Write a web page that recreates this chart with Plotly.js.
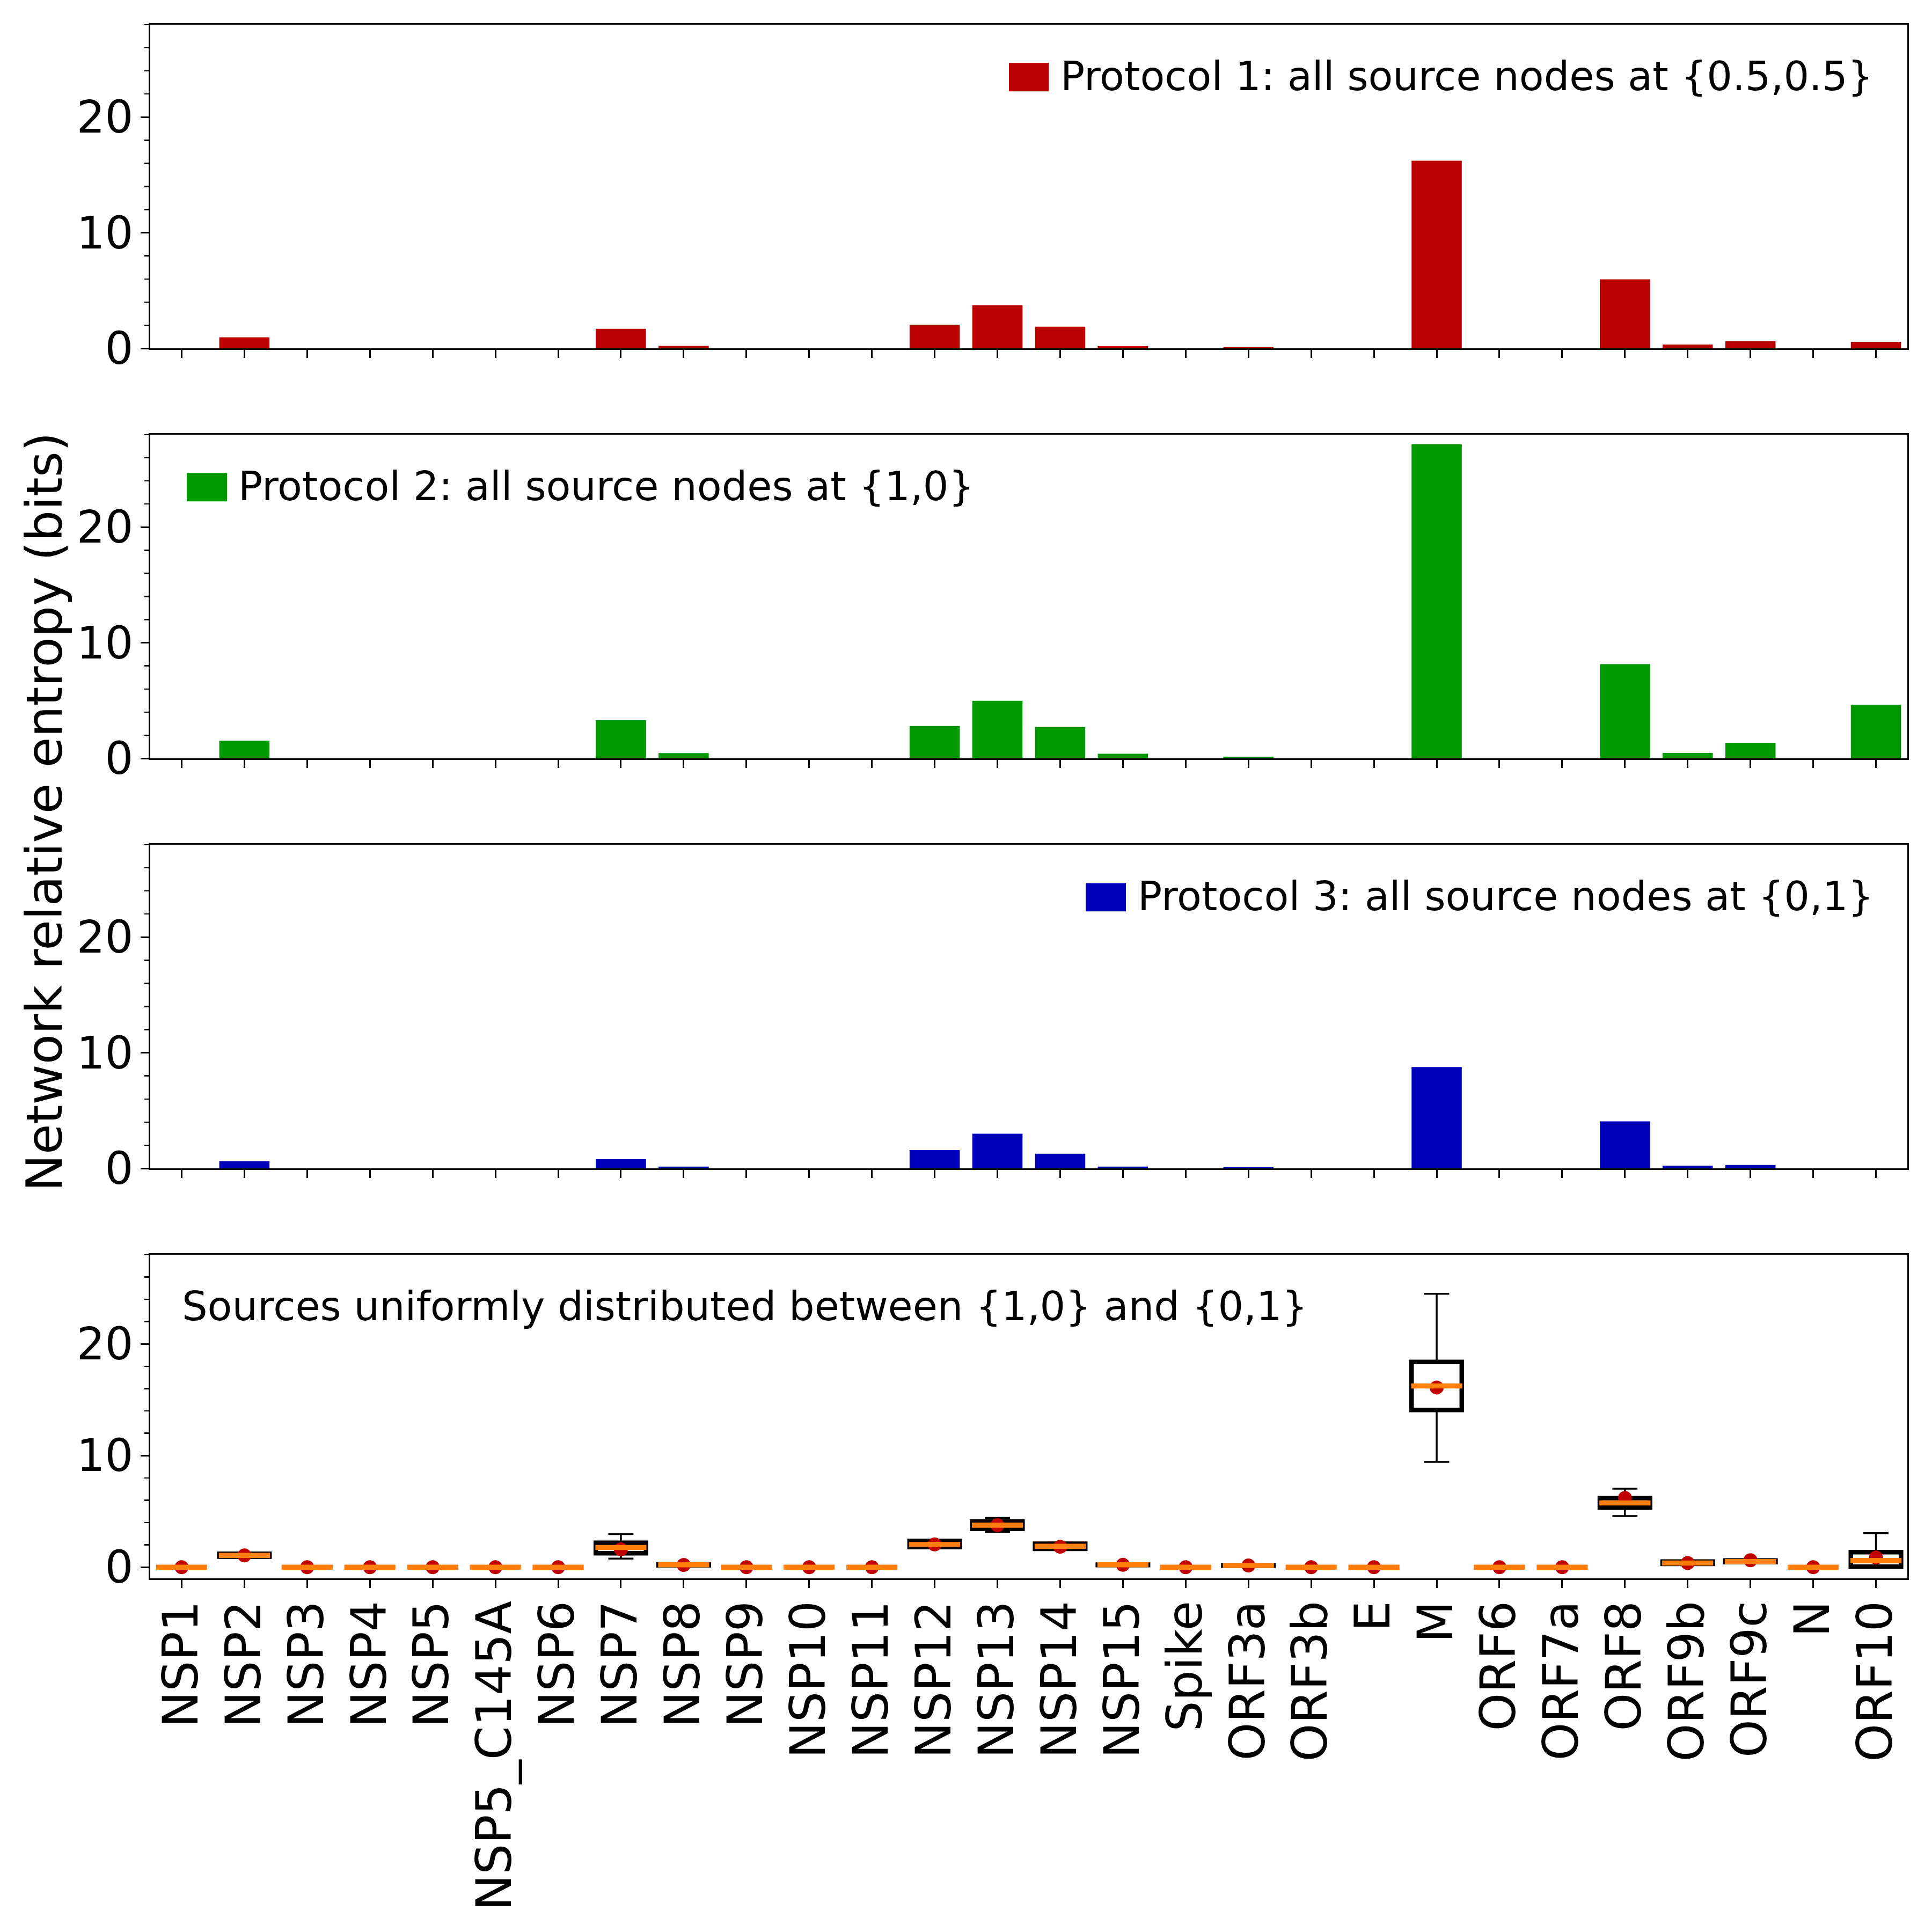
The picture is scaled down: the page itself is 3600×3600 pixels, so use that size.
<!DOCTYPE html>
<html>
<head>
<meta charset="utf-8">
<script src="https://cdn.plot.ly/plotly-3.0.1.min.js"></script>
<style>
  html, body { margin: 0; padding: 0; background: #fff; }
  #chart { width: 3600px; height: 3600px; }
</style>
</head>
<body>
<div id="chart"></div>
<script>
// gene names along the shared x axis
const genes = ["NSP1", "NSP2", "NSP3", "NSP4", "NSP5", "NSP5_C145A", "NSP6", "NSP7",
  "NSP8", "NSP9", "NSP10", "NSP11", "NSP12", "NSP13", "NSP14", "NSP15", "Spike",
  "ORF3a", "ORF3b", "E", "M", "ORF6", "ORF7a", "ORF8", "ORF9b", "ORF9c", "N", "ORF10"];

// protocol 1: all sources at {0.5,0.5}
const proto1 = [0, 0.95, 0, 0, 0, 0, 0, 1.68, 0.21, 0, 0, 0, 2.05, 3.73, 1.87, 0.19, 0,
  0.1, 0, 0, 16.23, 0, 0, 5.97, 0.33, 0.62, 0, 0.56];
// protocol 2: all sources at {1,0}
const proto2 = [0, 1.52, 0, 0, 0, 0, 0, 3.3, 0.45, 0, 0, 0, 2.8, 4.98, 2.7, 0.39, 0,
  0.14, 0, 0, 27.18, 0, 0, 8.15, 0.46, 1.35, 0, 4.62];
// protocol 3: all sources at {0,1}
const proto3 = [0, 0.62, 0, 0, 0, 0, 0, 0.79, 0.15, 0, 0, 0, 1.58, 2.99, 1.27, 0.15, 0,
  0.1, 0, 0, 8.77, 0, 0, 4.06, 0.23, 0.29, 0, 0];

// uniformly distributed sources: box stats and means
const boxLow  = [0, 0.85, 0, 0, 0, 0, 0, 0.77, 0.15, 0, 0, 0, 1.75, 3.16, 1.55, 0.18, 0,
  0.12, 0, 0, 9.44, 0, 0, 4.58, 0.25, 0.4, 0, 0];
const boxQ1   = [0, 0.95, 0, 0, 0, 0, 0, 1.25, 0.17, 0, 0, 0, 1.8, 3.44, 1.65, 0.19, 0,
  0.13, 0, 0, 14.09, 0, 0, 5.33, 0.3, 0.45, 0, 0.05];
const boxMed  = [0, 1.05, 0, 0, 0, 0, 0, 1.76, 0.21, 0, 0, 0, 2.04, 3.76, 1.87, 0.21, 0,
  0.15, 0, 0, 16.24, 0, 0, 5.76, 0.37, 0.5, 0, 0.6];
const boxQ3   = [0, 1.2, 0, 0, 0, 0, 0, 2.19, 0.25, 0, 0, 0, 2.35, 4.09, 2.1, 0.23, 0,
  0.17, 0, 0, 18.39, 0, 0, 6.19, 0.5, 0.6, 0, 1.35];
const boxHigh = [0, 1.3, 0, 0, 0, 0, 0, 2.97, 0.28, 0, 0, 0, 2.4, 4.41, 2.2, 0.25, 0,
  0.18, 0, 0, 24.5, 0, 0, 7.03, 0.55, 0.65, 0, 3.05];
const boxMean = [0, 1.05, 0, 0, 0, 0, 0, 1.6, 0.2, 0, 0, 0, 2.04, 3.76, 1.83, 0.21, 0,
  0.15, 0, 0, 16.1, 0, 0, 6.2, 0.37, 0.62, 0, 0.86];

const FONT = "DejaVu Sans";
const barColors = ["#bb0000", "#009900", "#0000bb"];

// bar panels
const barTraces = [proto1, proto2, proto3].map((vals, i) => ({
  type: "bar",
  x: genes,
  y: vals,
  width: 0.8,
  marker: { color: barColors[i], line: { width: 0 } },
  xaxis: i === 0 ? "x" : "x" + (i + 1),
  yaxis: i === 0 ? "y" : "y" + (i + 1),
  showlegend: false,
  hoverinfo: "skip",
}));

// box panel: thin whiskers, thick box, then mean dots and orange medians on top
const boxCommon = {
  type: "box",
  x: genes,
  width: 0.8,
  boxpoints: false,
  fillcolor: "rgba(0,0,0,0)",
  xaxis: "x4",
  yaxis: "y4",
  showlegend: false,
  hoverinfo: "skip",
};
const whiskerTrace = {
  ...boxCommon,
  q1: boxQ1, median: boxMed, q3: boxQ3,
  lowerfence: boxLow, upperfence: boxHigh,
  line: { color: "#000", width: 3.5 },
  whiskerwidth: 0.5,
};
const thickBoxTrace = {
  ...boxCommon,
  q1: boxQ1, median: boxMed, q3: boxQ3,
  lowerfence: boxQ1, upperfence: boxQ3,
  line: { color: "#000", width: 8.5 },
  whiskerwidth: 0,
};
const meanTrace = {
  type: "scatter",
  mode: "markers",
  x: genes,
  y: boxMean,
  marker: { color: "#c00000", size: 26, line: { width: 0 } },
  xaxis: "x4",
  yaxis: "y4",
  showlegend: false,
  hoverinfo: "skip",
};
// line-ew symbol spans 1.4x its size, so 68 px gives the 0.8-wide box
const medianTrace = {
  type: "scatter",
  mode: "markers",
  x: genes,
  y: boxMed,
  marker: { symbol: "line-ew", size: 68, color: "#ff7f0e", line: { color: "#ff7f0e", width: 9.5 } },
  xaxis: "x4",
  yaxis: "y4",
  showlegend: false,
  hoverinfo: "skip",
};

const data = [...barTraces, whiskerTrace, thickBoxTrace, meanTrace, medianTrace];

// axes
const domains = [[0.7917, 1], [0.5278, 0.7361], [0.2639, 0.4722], [0, 0.2083]];
const xAxisBase = (anchor, labels) => ({
  anchor: anchor,
  domain: [0, 1],
  type: "category",
  categoryorder: "array",
  categoryarray: genes,
  range: [-0.5, genes.length - 0.5],
  showline: true, linewidth: 3, linecolor: "#000", mirror: true,
  ticks: "outside", ticklen: 15, tickwidth: 3, tickcolor: "#000",
  showticklabels: labels,
  tickangle: -90,
  tickfont: { family: FONT, size: 90, color: "#000" },
  ticklabelstandoff: -12,
  showgrid: false, zeroline: false,
});
const yAxisBase = (anchor, dom, range) => ({
  anchor: anchor,
  domain: dom,
  range: range,
  tickmode: "linear", tick0: 0, dtick: 10,
  showline: true, linewidth: 3, linecolor: "#000", mirror: true,
  ticks: "outside", ticklen: 15, tickwidth: 3, tickcolor: "#000",
  tickfont: { family: FONT, size: 83, color: "#000" },
  ticklabelstandoff: -3,
  minor: { tick0: 0, dtick: 2, ticks: "outside", ticklen: 8, tickwidth: 2.5, tickcolor: "#000", showgrid: false },
  showgrid: false, zeroline: false,
});

// legend swatches and panel captions
const swatch = (yref, x0, x1, y0, y1, color) => ({
  type: "rect", xref: yref.replace("y", "x") + " domain", yref: yref + " domain",
  x0: x0, x1: x1, y0: y0, y1: y1,
  fillcolor: color, line: { width: 0 },
});
const caption = (yref, x, y, text) => ({
  xref: yref.replace("y", "x") + " domain", yref: yref + " domain",
  x: x, y: y, xanchor: "left", yanchor: "middle",
  text: text, showarrow: false,
  font: { family: FONT, size: 75, color: "#000" },
});

const layout = {
  width: 3600,
  height: 3600,
  paper_bgcolor: "#fff",
  plot_bgcolor: "#fff",
  margin: { l: 280, r: 46, t: 46, b: 659 },
  showlegend: false,
  boxmode: "overlay",
  xaxis: xAxisBase("y", false),
  xaxis2: xAxisBase("y2", false),
  xaxis3: xAxisBase("y3", false),
  xaxis4: xAxisBase("y4", true),
  yaxis: yAxisBase("x", domains[0], [0, 28]),
  yaxis2: yAxisBase("x2", domains[1], [0, 28]),
  yaxis3: yAxisBase("x3", domains[2], [0, 28]),
  yaxis4: yAxisBase("x4", domains[3], [-1, 28]),
  shapes: [
    swatch("y", 0.4887, 0.5114, 0.794, 0.882, barColors[0]),
    swatch("y2", 0.0208, 0.0437, 0.794, 0.882, barColors[1]),
    swatch("y3", 0.5324, 0.5553, 0.794, 0.881, barColors[2]),
  ],
  annotations: [
    caption("y", 0.5175, 0.84, "Protocol 1: all source nodes at {0.5,0.5}"),
    caption("y2", 0.0495, 0.84, "Protocol 2: all source nodes at {1,0}"),
    caption("y3", 0.5615, 0.84, "Protocol 3: all source nodes at {0,1}"),
    caption("y4", 0.0175, 0.84, "Sources uniformly distributed between {1,0} and {0,1}"),
    {
      xref: "paper", yref: "paper",
      x: -0.0602, y: 0.4936, xanchor: "center", yanchor: "middle",
      text: "Network relative entropy (bits)",
      textangle: -90, showarrow: false,
      font: { family: FONT, size: 92, color: "#000" },
    },
  ],
};

Plotly.newPlot("chart", data, layout, { staticPlot: true, displayModeBar: false });
</script>
</body>
</html>
